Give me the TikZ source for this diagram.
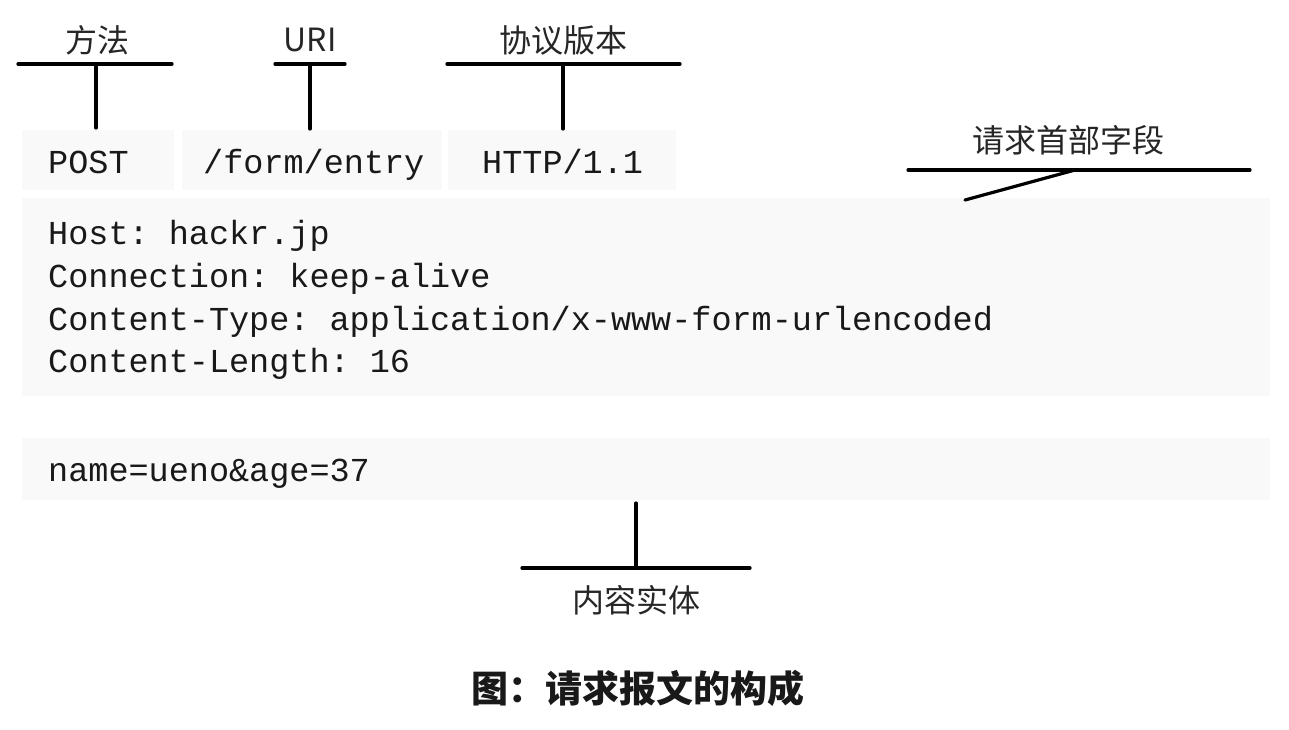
\documentclass[tikz,border=0pt]{standalone}
\usepackage{fontspec}
\setmonofont{Liberation Mono}
\newfontfamily\cjk{Noto Sans CJK SC}
\begin{document}
\begin{tikzpicture}[x=1pt,y=-1pt,
  box/.style={fill=gray!5},
  code/.style={font=\ttfamily\fontsize{33.5}{40}\selectfont, text=black!90, anchor=base west, inner sep=0pt},
  lbl/.style={font=\cjk\fontsize{32}{38}\selectfont, text=black!85, inner sep=0pt},
  titletext/.style={font=\cjk\bfseries\fontsize{37}{44}\selectfont, text=black!90, inner sep=0pt},
  bar/.style={line width=3.2pt, line cap=round}]
\useasboundingbox[fill=white] (0,0) rectangle (1289,730);
% boxes
\fill[box] (22,130) rectangle (174,190);
\fill[box] (182,130) rectangle (442,190);
\fill[box] (448,130) rectangle (676,190);
\fill[box] (22,198) rectangle (1270,396);
\fill[box] (22,438) rectangle (1270,500);
% code text
\node[code] (post) at (48,174) {POST};
\node[code] (uri) at (203,174) {/form/entry};
\node[code] (ver) at (482,174) {HTTP/1.1};
\node[code] (h1) at (48,244) {Host: hackr.jp};
\node[code] (h2) at (48,287) {Connection: keep-alive};
\node[code] (h3) at (48,330) {Content-Type: application/x-www-form-urlencoded};
\node[code] (h4) at (48,372) {Content-Length: 16};
\node[code] (body) at (48,481) {name=ueno\&age=37};
% labels
\node[lbl] (lm) at (97,40) {方法};
\node[lbl] (lu) at (310,40) {URI};
\node[lbl] (lv) at (563,40) {协议版本};
\node[lbl] (lh) at (1068,140) {请求首部字段};
\node[lbl] (lb) at (636,600) {内容实体};
\node[titletext] (title) at (638,688) {图：请求报文的构成};
% connector coordinates
\coordinate (m1) at (18,64); \coordinate (m2) at (172,64);
\coordinate (mt) at (96,64); \coordinate (mb) at (96,128);
\coordinate (u1) at (275,64); \coordinate (u2) at (345,64);
\coordinate (ut) at (310,64); \coordinate (ub) at (310,129);
\coordinate (v1) at (447,64); \coordinate (v2) at (680,64);
\coordinate (vt) at (563,64); \coordinate (vb) at (563,129);
\coordinate (hh1) at (908,170); \coordinate (hh2) at (1250,170);
\coordinate (hj) at (1075,170); \coordinate (he) at (965,200);
\coordinate (bt) at (636,503); \coordinate (bj) at (636,568);
\coordinate (bb1) at (522,568); \coordinate (bb2) at (750,568);
\draw[bar] (m1) -- (m2); \draw[bar] (mt) -- (mb);
\draw[bar] (u1) -- (u2); \draw[bar] (ut) -- (ub);
\draw[bar] (v1) -- (v2); \draw[bar] (vt) -- (vb);
\draw[bar] (hh1) -- (hh2); \draw[bar] (hj) -- (he);
\draw[bar] (bt) -- (bj); \draw[bar] (bb1) -- (bb2);
\end{tikzpicture}
\end{document}
